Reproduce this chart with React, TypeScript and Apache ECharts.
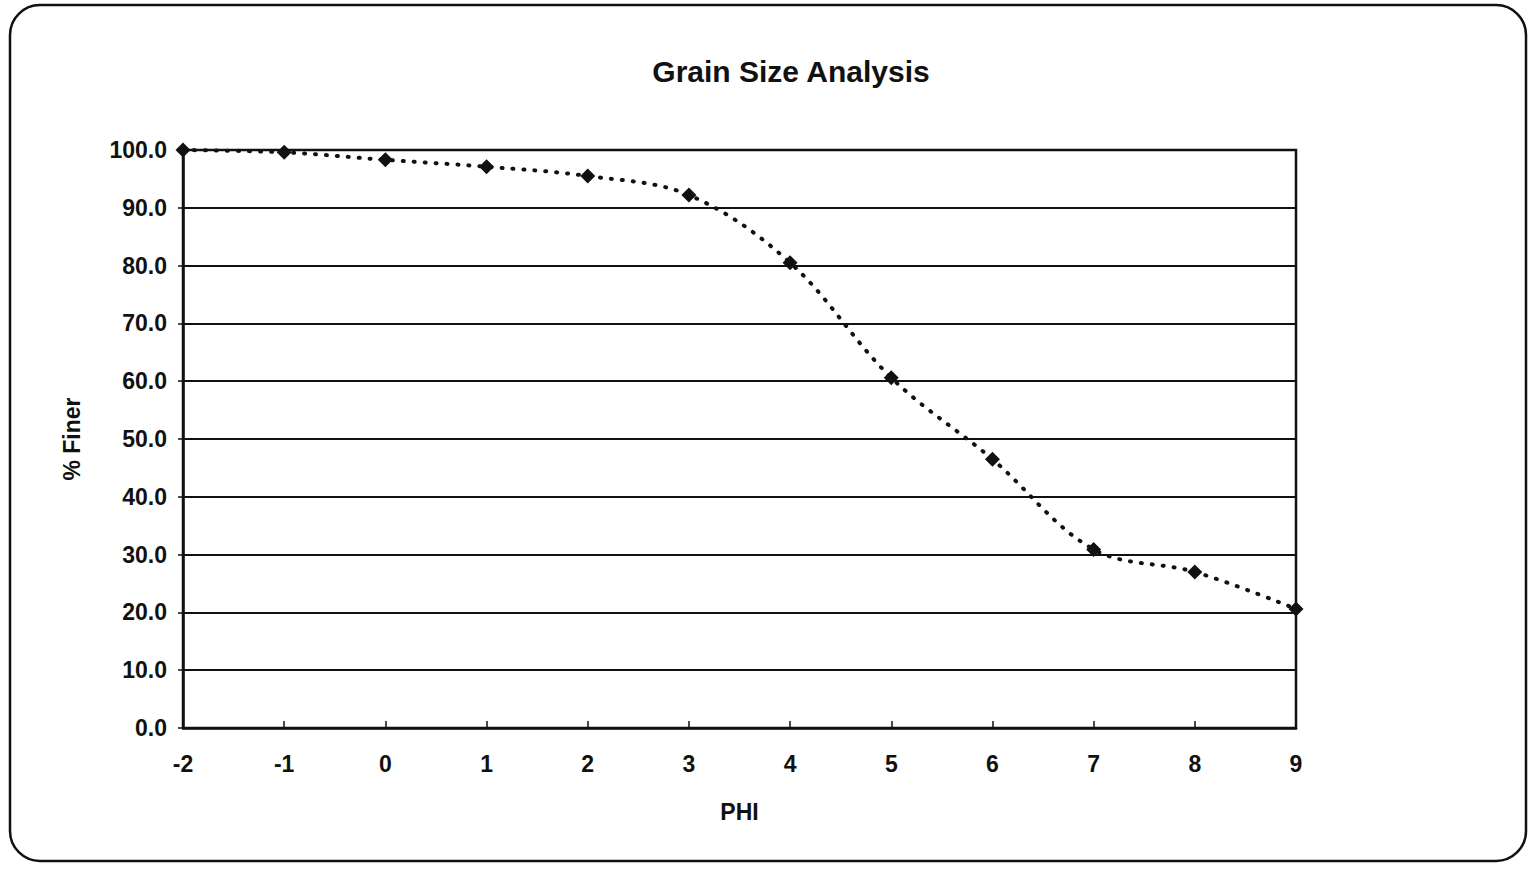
import React, { useEffect, useRef } from "react";
import * as echarts from "echarts";

const phi = [-2, -1, 0, 1, 2, 3, 4, 5, 6, 7, 8, 9];
const percentFiner = [100, 99.6, 98.3, 97.1, 95.5, 92.2, 80.5, 60.6, 46.5, 30.9, 27.0, 20.6];
const chartTitle = "Grain Size Analysis";
const xName = "PHI";
const yName = "% Finer";

const FONT = "'Liberation Sans', Arial, sans-serif";

export default function App() {
  const ref = useRef<HTMLDivElement>(null);
  useEffect(() => {
    if (!ref.current) return;
    const chart = echarts.init(ref.current, null, { renderer: "svg" });
    chart.setOption({
      animation: false,
      backgroundColor: "#ffffff",
      title: {
        text: chartTitle,
        left: 786,
        textAlign: "center",
        top: 51,
        textStyle: { fontFamily: FONT, fontWeight: "bold", fontSize: 30, color: "#111" },
      },
      graphic: [
        {
          type: "rect",
          shape: { x: 10, y: 5, width: 1516, height: 856, r: 30 },
          style: { fill: "none", stroke: "#111", lineWidth: 2.5 },
          silent: true,
        },
      ],
      grid: { left: 183, right: 237, top: 150, bottom: 143, show: true, borderColor: "#111", borderWidth: 2.5, backgroundColor: "transparent" },
      xAxis: {
        type: "value",
        min: -2,
        max: 9,
        interval: 1,
        name: xName,
        nameLocation: "middle",
        nameGap: 72,
        nameTextStyle: { fontFamily: FONT, fontWeight: "bold", fontSize: 23, color: "#111" },
        axisLine: { onZero: false, lineStyle: { color: "#111", width: 2.5 } },
        axisTick: { show: true, inside: true, length: 7, lineStyle: { color: "#111", width: 1.5 } },
        axisLabel: { margin: 24, fontFamily: FONT, fontWeight: "bold", fontSize: 23, color: "#111" },
        splitLine: { show: false },
      },
      yAxis: {
        type: "value",
        min: 0,
        max: 100,
        interval: 10,
        name: yName,
        nameLocation: "middle",
        nameGap: 100,
        nameTextStyle: { fontFamily: FONT, fontWeight: "bold", fontSize: 23, color: "#111" },
        axisLine: { show: true, onZero: false, lineStyle: { color: "#111", width: 2.5 } },
        axisTick: { show: true, length: 5, lineStyle: { color: "#111", width: 1.5 } },
        axisLabel: {
          margin: 16,
          fontFamily: FONT,
          fontWeight: "bold",
          fontSize: 23,
          color: "#111",
          formatter: (v: number) => v.toFixed(1),
        },
        splitLine: { show: true, lineStyle: { color: "#111", width: 2.2 } },
      },
      series: [
        {
          type: "line",
          data: phi.map((x, i) => [x, percentFiner[i]]),
          smooth: 0.35,
          symbol: "diamond",
          symbolSize: 15,
          itemStyle: { color: "#111" },
          lineStyle: { color: "#111", width: 4, type: [1, 10], cap: "round" },
        },
      ],
    });
    return () => chart.dispose();
  }, []);
  return <div ref={ref} style={{ position: "fixed", left: 0, top: 0, width: 1533, height: 871 }} />;
}
